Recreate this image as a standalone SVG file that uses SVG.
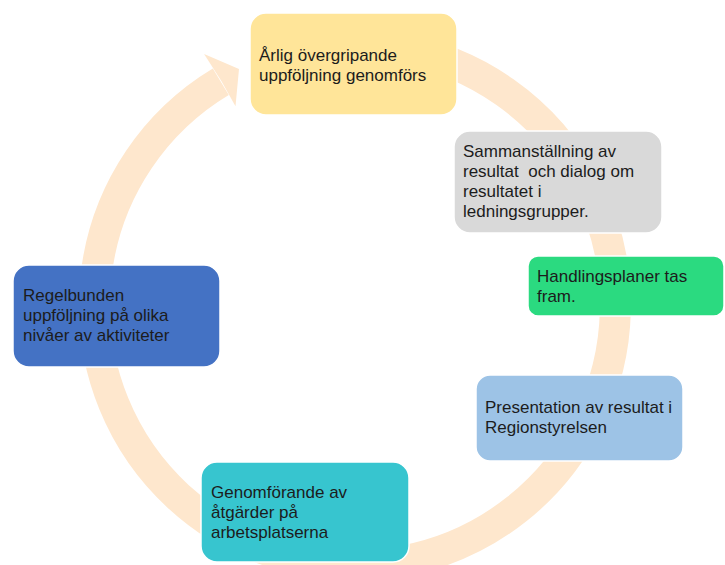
<svg xmlns="http://www.w3.org/2000/svg" width="725" height="565" viewBox="0 0 725 565">
  <style>
    .box { stroke: #ffffff; stroke-width: 1.5; }
    .lbl { font-family: "Liberation Sans", Arial, sans-serif; font-size: 17px; fill: #1c1c1c; }
    .ring { fill: none; stroke: #FEE7CD; stroke-width: 31; stroke-linecap: butt; }
    .head { fill: #FEE7CD; }
  </style>
  <rect width="725" height="565" fill="#ffffff"/>
  <g id="connectors">
    <path class="ring" d="M 400.2 48.5 A 260.5 260.5 0 1 1 220.8 81.7"/>
    <polygon class="head" points="204.1,53.9 239,69 235.5,106.2 221.5,81.2"/>
  </g>
  <g id="node-arlig">
    <rect class="box" x="250" y="13" width="207" height="102" rx="16" fill="#FFE599"/>
    <text class="lbl" x="259" y="60.5">Årlig övergripande</text>
    <text class="lbl" x="259" y="80.5">uppföljning genomförs</text>
  </g>
  <g id="node-sammanstallning">
    <rect class="box" x="454" y="131" width="208" height="102" rx="16" fill="#D9D9D9"/>
    <text class="lbl" x="463" y="157">Sammanställning av</text>
    <text class="lbl" x="463" y="177" xml:space="preserve">resultat  och dialog om</text>
    <text class="lbl" x="463" y="197">resultatet i</text>
    <text class="lbl" x="463" y="217">ledningsgrupper.</text>
  </g>
  <g id="node-handlingsplaner">
    <rect class="box" x="528" y="256" width="196" height="60" rx="10" fill="#2BDA80"/>
    <text class="lbl" x="537" y="282">Handlingsplaner tas</text>
    <text class="lbl" x="537" y="302">fram.</text>
  </g>
  <g id="node-presentation">
    <rect class="box" x="476" y="375" width="207" height="86" rx="14" fill="#9DC3E6"/>
    <text class="lbl" x="485" y="413">Presentation av resultat i</text>
    <text class="lbl" x="485" y="433">Regionstyrelsen</text>
  </g>
  <g id="node-genomforande">
    <rect class="box" x="201" y="462" width="208" height="100" rx="16" fill="#37C5CF"/>
    <text class="lbl" x="211" y="498">Genomförande av</text>
    <text class="lbl" x="211" y="518">åtgärder på</text>
    <text class="lbl" x="211" y="538">arbetsplatserna</text>
  </g>
  <g id="node-regelbunden">
    <rect class="box" x="13" y="265" width="207" height="102" rx="16" fill="#4472C4"/>
    <text class="lbl" x="23" y="301">Regelbunden</text>
    <text class="lbl" x="23" y="321">uppföljning på olika</text>
    <text class="lbl" x="23" y="341">nivåer av aktiviteter</text>
  </g>
</svg>
